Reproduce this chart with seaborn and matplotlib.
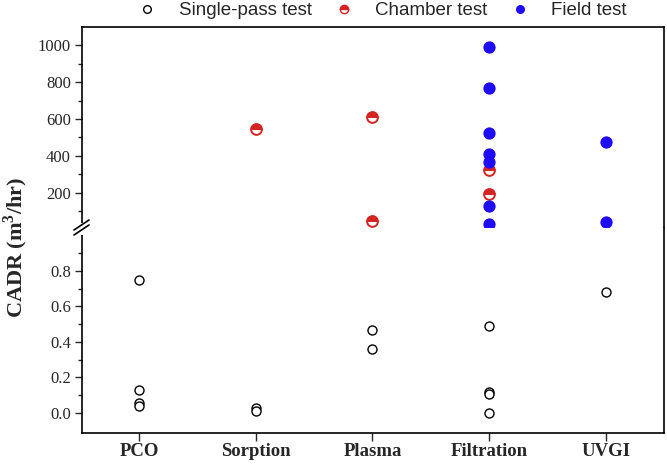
import numpy as np
import pandas as pd
import matplotlib
matplotlib.use("Agg")
import matplotlib.pyplot as plt
import seaborn as sns
from matplotlib.lines import Line2D
from matplotlib.markers import MarkerStyle
from matplotlib.ticker import FixedLocator, FormatStrFormatter

categories = ['PCO', 'Sorption', 'Plasma', 'Filtration', 'UVGI']

# single-pass test (lower panel, small CADR)
sp_tech = ['PCO', 'PCO', 'PCO', 'PCO', 'Sorption', 'Sorption', 'Plasma', 'Plasma',
           'Filtration', 'Filtration', 'Filtration', 'Filtration', 'UVGI']
sp_cadr = [0.75, 0.13, 0.055, 0.04, 0.028, 0.01, 0.47, 0.36,
           0.49, 0.12, 0.105, 0.0, 0.68]

# chamber test (upper panel)
ch_tech = ['Sorption', 'Plasma', 'Plasma', 'Filtration', 'Filtration']
ch_cadr = [545, 610, 45, 325, 193]

# field test (upper panel)
fd_tech = ['Filtration'] * 7 + ['UVGI'] * 2
fd_cadr = [990, 768, 522, 408, 365, 125, 32, 476, 40]

red = '#d42323'
blue = '#1f0bff'


def to_df(tech, cadr):
    return pd.DataFrame({'tech': tech,
                         'pos': [categories.index(t) for t in tech],
                         'cadr': cadr})


sp_df = to_df(sp_tech, sp_cadr)
ch_df = to_df(ch_tech, ch_cadr)
fd_df = to_df(fd_tech, fd_cadr)

sns.set_style('ticks')
plt.rcParams['font.family'] = ['Liberation Serif', 'DejaVu Serif']
plt.rcParams['mathtext.fontset'] = 'custom'
plt.rcParams['mathtext.rm'] = 'Liberation Serif'
plt.rcParams['mathtext.bf'] = 'Liberation Serif:bold'

W, H = 667, 466
fig = plt.figure(figsize=(W / 100, H / 100), dpi=100)


def px_box(x0, y0, x1, y1):
    return [x0 / W, 1 - y1 / H, (x1 - x0) / W, (y1 - y0) / H]


ax_top = fig.add_axes(px_box(82, 27, 664, 228))
ax_bot = fig.add_axes(px_box(82, 228, 664, 433))

# lower panel: single-pass
sns.scatterplot(data=sp_df, x='pos', y='cadr', ax=ax_bot, marker='o', s=42,
                color='white', edgecolor='black', linewidth=1.0, legend=False, zorder=3)

# upper panel: chamber (half filled) + field
sns.scatterplot(data=ch_df, x='pos', y='cadr', ax=ax_top, marker='o', s=60,
                color='white', edgecolor=red, linewidth=1.4, legend=False, zorder=3)
sns.scatterplot(data=ch_df, x='pos', y='cadr', ax=ax_top,
                marker=MarkerStyle('o', fillstyle='top'), s=60,
                color=red, edgecolor=red, linewidth=0.7, legend=False, zorder=4)
sns.scatterplot(data=fd_df, x='pos', y='cadr', ax=ax_top, marker='o', s=78,
                color=blue, edgecolor=blue, linewidth=0, legend=False, zorder=5)

for ax in (ax_top, ax_bot):
    ax.set_xlim(-0.49, 4.5)
    ax.set_xlabel('')
    ax.set_ylabel('')
    for sp in ax.spines.values():
        sp.set_linewidth(1.2)
        sp.set_color('black')
    ax.tick_params(axis='y', which='major', direction='out', length=5, width=1.0,
                   labelsize=12, pad=3)
    ax.tick_params(axis='y', which='minor', direction='out', length=3, width=1.0)

ax_top.set_ylim(8, 1100)
ax_top.yaxis.set_major_locator(FixedLocator([200, 400, 600, 800, 1000]))
ax_top.yaxis.set_minor_locator(FixedLocator([100, 300, 500, 700, 900]))
ax_top.tick_params(axis='x', bottom=False, labelbottom=False)
ax_top.spines['bottom'].set_visible(False)

ax_bot.set_ylim(-0.113, 1.042)
ax_bot.yaxis.set_major_locator(FixedLocator([0.0, 0.2, 0.4, 0.6, 0.8]))
ax_bot.yaxis.set_minor_locator(FixedLocator([0.1, 0.3, 0.5, 0.7, 0.9]))
ax_bot.yaxis.set_major_formatter(FormatStrFormatter('%.1f'))
ax_bot.spines['top'].set_visible(False)
ax_bot.set_xticks(range(len(categories)))
ax_bot.set_xticklabels(categories, fontweight='bold', fontsize=13.5)
ax_bot.tick_params(axis='x', direction='out', length=6, width=1.0, pad=1)


# axis break on the left spine
def fx(x):
    return x / W


def fy(y):
    return 1 - y / H


fig.add_artist(Line2D([fx(82), fx(82)], [fy(225), fy(233)], color='white', lw=3,
                      transform=fig.transFigure))
for dy in (0, 5):
    fig.add_artist(Line2D([fx(74), fx(89)], [fy(235 - dy), fy(225 - dy)], color='black',
                          lw=1.2, transform=fig.transFigure))

fig.text(fx(16), fy(247), 'CADR (m$^\\mathbf{3}$/hr)', rotation=90, ha='center', va='center',
         fontsize=16, fontweight='bold')

handles = [
    Line2D([], [], ls='', marker='o', ms=5.5, mfc='white', mec='black', mew=1.0),
    Line2D([], [], ls='', marker='o', ms=6, fillstyle='top', mfc=red,
           markerfacecoloralt='white', mec=red, mew=1.0),
    Line2D([], [], ls='', marker='o', ms=6.5, mfc=blue, mec=blue, mew=0),
]
labels = ['Single-pass test', 'Chamber test', 'Field test']
fig.legend(handles, labels, loc='center', bbox_to_anchor=(0.573, 0.977), ncol=3,
           frameon=False, handlelength=1.0, handletextpad=1.2, columnspacing=1.2,
           prop={'family': 'Liberation Sans', 'size': 13.5})

fig.savefig('out.png', dpi=100)
